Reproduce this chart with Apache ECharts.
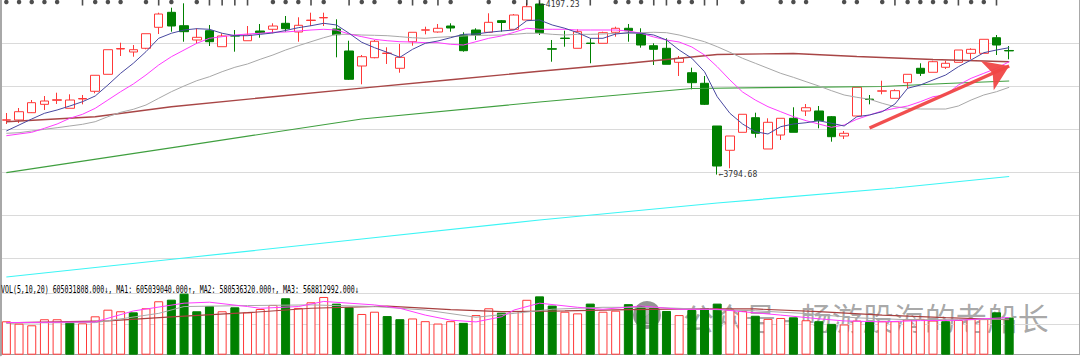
<!DOCTYPE html>
<html><head><meta charset="utf-8">
<script src="https://cdn.jsdelivr.net/npm/echarts@6/dist/echarts.min.js"></script>
<style>html,body{margin:0;padding:0;background:#fff;overflow:hidden}#c{width:1080px;height:358px}</style>
</head><body><div id="c"></div>
<script>
// ---------- data ----------
const dayCount = 80;
const categories = Array.from({length: 85}, (_, i) => i < dayCount ? 'D' + (i + 1) : '');
const candleOpen = [3921.2,3921.6,3938.6,3958.1,3967.4,3948.9,3970.5,3988.4,4027.9,4086.7,
4079.8,4088.4,4137.2,4172.1,4140.9,4107.7,4129.3,4092.1,4118.1,4106.0,
4128.6,4132.6,4146.5,4126.3,4153.0,4159.1,4133.3,4082.1,4047.2,4066.5,
4076.3,4041.9,4103.7,4130.5,4126.3,4140.2,4119.3,4130.9,4125.6,4152.6,
4132.6,4154.2,4191.4,4087.4,4112.1,4088.4,4100.5,4100.0,4125.6,4134.9,
4121.6,4094.4,4088.4,4055.8,4031.6,4007.0,3907.7,3851.2,3893.0,3927.0,
3854.2,3886.7,3925.6,3942.6,3942.6,3929.3,3884.4,3930.9,3970.2,3988.6,
3972.1,4008.4,4041.9,4032.6,4044.2,4055.8,4076.7,4076.7,4113.0,4083.3];
const candleClose = [3922.0,3940.9,3961.9,3965.8,3968.8,3968.1,3971.6,4025.6,4085.1,4087.9,
4085.1,4122.3,4168.1,4140.2,4127.0,4113.9,4103.7,4117.0,4116.7,4119.3,
4124.7,4140.2,4134.0,4141.9,4153.9,4160.0,4120.0,4016.3,4068.8,4104.7,
4077.2,4067.4,4125.6,4131.4,4134.9,4135.6,4082.8,4119.3,4148.8,4148.4,
4165.8,4185.1,4124.7,4086.3,4111.2,4127.0,4099.5,4124.7,4134.9,4129.3,
4096.0,4086.0,4051.2,4065.1,4008.4,3958.1,3814.6,3884.4,3934.9,3890.7,
3916.3,3925.6,3893.0,3950.2,3920.0,3882.8,3890.7,3997.7,3969.3,3989.5,
3989.8,4027.9,4030.2,4057.2,4053.5,4084.4,4086.0,4109.3,4096.0,4082.3];
const candleLow = [3912.3,3914.7,3937.9,3944.9,3958.9,3948.9,3958.1,3983.7,4027.9,4070.5,
4068.8,4086.0,4121.6,4127.0,4103.7,4098.4,4093.7,4092.1,4080.5,4106.0,
4113.0,4123.3,4127.0,4103.7,4140.2,4140.2,4067.4,4014.7,4004.7,4065.1,
4051.9,4031.6,4094.4,4120.9,4124.7,4127.0,4080.5,4107.7,4125.6,4127.0,
4132.6,4154.2,4119.3,4057.2,4092.1,4088.4,4053.5,4100.0,4115.4,4103.7,
4089.8,4049.5,4051.2,4024.0,3993.0,3956.5,3794.68,3809.3,3893.0,3880.5,
3854.2,3875.1,3893.0,3930.9,3902.3,3871.2,3877.4,3930.9,3958.1,3981.4,
3972.1,3995.4,4024.0,4032.6,4040.2,4055.8,4062.8,4076.7,4072.8,4062.8];
const candleHigh = [3937.9,3949.5,3968.1,3977.4,3985.1,3981.4,3979.8,4025.6,4085.1,4101.4,
4096.0,4122.3,4171.2,4182.8,4193.0,4134.9,4142.6,4123.3,4130.9,4140.2,
4144.9,4146.5,4163.5,4160.5,4171.2,4171.2,4155.8,4106.0,4072.8,4107.7,
4090.7,4098.4,4125.6,4138.6,4144.9,4146.5,4125.6,4134.9,4169.8,4154.2,
4168.1,4194.0,4197.23,4107.7,4129.3,4132.6,4111.6,4127.0,4138.6,4144.9,
4134.9,4100.0,4111.6,4070.5,4043.3,4024.0,3907.7,3884.4,3934.9,3938.6,
3925.6,3925.6,3951.2,3958.8,3954.2,3930.9,3896.0,3997.7,3979.8,4013.0,
3993.0,4027.9,4053.5,4059.5,4059.5,4084.4,4088.4,4109.3,4119.3,4093.7];
const ma5 = [3896.1,3910.0,3924.0,3937.2,3944.9,3954.2,3964.2,3977.4,4003.0,4030.2,
4053.5,4080.5,4111.6,4123.3,4130.9,4134.0,4132.6,4123.3,4117.7,4117.7,
4120.9,4124.0,4129.8,4136.3,4140.9,4146.5,4142.6,4123.3,4102.3,4089.8,
4079.1,4067.4,4086.0,4100.0,4105.4,4113.0,4120.9,4121.6,4125.6,4128.6,
4130.9,4152.6,4154.2,4142.6,4134.9,4124.7,4111.6,4111.6,4121.6,4124.7,
4123.3,4119.3,4107.7,4084.4,4065.1,4034.0,3975.8,3937.2,3912.3,3894.4,
3889.1,3906.1,3912.3,3915.3,3920.0,3914.0,3907.7,3929.3,3933.3,3940.9,
3958.8,3995.4,4003.0,4014.7,4026.3,4045.6,4061.2,4078.1,4084.4,4089.8];
const ma10 = [3885.1,3889.1,3893.0,3902.3,3912.3,3925.6,3934.9,3948.8,3968.1,3987.4,
4005.3,4026.3,4049.5,4068.8,4084.4,4100.0,4111.6,4115.4,4119.3,4121.6,
4123.3,4125.6,4126.3,4128.6,4130.9,4132.6,4130.9,4121.6,4115.4,4109.3,
4106.0,4103.7,4103.0,4101.4,4101.4,4097.7,4096.0,4103.7,4111.6,4117.0,
4125.6,4134.9,4132.6,4132.6,4132.6,4130.9,4130.9,4130.9,4130.9,4128.6,
4123.3,4114.7,4107.7,4103.0,4091.4,4072.8,4045.6,4014.7,3986.7,3968.1,
3952.6,3940.9,3929.3,3920.0,3912.3,3904.7,3910.0,3923.3,3933.3,3942.6,
3948.8,3954.2,3964.2,3975.8,3979.8,4003.0,4018.6,4030.2,4041.9,4057.2];
const ma20 = [3890.7,3892.1,3896.0,3900.0,3903.7,3907.7,3911.6,3917.7,3929.3,3939.5,
3946.5,3956.5,3972.1,3987.4,4000.7,4013.0,4022.3,4034.0,4044.2,4051.9,
4062.8,4072.8,4084.4,4094.4,4103.7,4113.0,4120.9,4120.9,4119.3,4118.6,
4117.7,4115.4,4113.0,4111.6,4114.0,4115.4,4117.0,4118.6,4118.6,4119.3,
4120.9,4123.3,4123.3,4120.9,4119.3,4120.9,4120.9,4121.6,4123.3,4123.3,
4124.7,4125.6,4124.7,4119.3,4111.6,4103.7,4092.1,4079.1,4065.1,4053.5,
4041.9,4030.2,4020.9,4010.7,4000.7,3989.8,3979.8,3974.4,3969.8,3960.5,
3952.6,3948.8,3947.2,3947.2,3947.2,3954.2,3968.1,3979.8,3987.4,3997.7];
// long averages, read at a few days (day number, value)
const ma60Points = [[1,3917.7],[8,3929.3],[14,3952.6],[22,3975.8],[29,3995.8],[36,4015.1],[43,4034.9],[50,4053.5],[57,4074.0],[63,4076.3],[68,4069.3],[74,4062.3],[80,4057.2]];
const ma120Points = [[1,3799.1],[15,3861.6],[29,3924.0],[43,3963.5],[55,3994.9],[63,3997.7],[70,3999.5],[75,4006.5],[80,4012.3]];
const ma250Points = [[1,3556.5],[15,3600.7],[29,3644.9],[43,3689.1],[57,3728.6],[71,3763.5],[80,3790.2]];
// volume in millions of shares
const volumeM = [544,505,479,577,577,544,511,625,733,707,
690,756,870,896,994,707,793,707,772,690,
744,810,919,761,853,940,831,772,663,700,
629,578,590,546,507,546,518,645,756,684,
712,894,950,800,700,673,832,700,717,823,
795,767,712,645,728,760,832,739,712,634,
583,598,609,561,545,502,492,556,534,545,
545,572,583,556,545,565,580,580,690,605];
const volumeUp = [1,1,1,1,1,0,1,1,1,1, 0,1,1,0,0,0,0,1,0,1, 1,1,0,1,1,1,0,0,1,1, 0,0,1,1,1,1,0,1,1,0,
1,1,0,0,1,1,0,1,1,0, 0,0,0,1,0,0,0,1,1,0, 1,1,0,1,0,0,1,1,0,1, 1,1,1,1,0,1,1,1,0,0];
const volMa5Points = [[1,523],[8,534],[11,712],[15,839],[17,855],[20,784],[21,756],[24,784],[26,867],[28,839],[30,811],[32,756],[34,645],[36,562],[38,534],[40,617],[41,728],[43,839],[46,772],[48,740],[51,793],[54,740],[57,740],[59,700],[62,645],[65,585],[67,550],[70,535],[73,555],[76,560],[78,585],[80,605]];
const volMa10Points = [[1,518],[8,523],[13,673],[15,784],[20,800],[25,811],[30,784],[34,728],[38,610],[41,673],[44,740],[48,772],[52,770],[56,740],[60,715],[64,670],[68,600],[72,570],[76,570],[80,580]];
const volMa20Points = [[1,518],[9,551],[14,617],[20,684],[25,756],[31,790],[36,735],[40,700],[45,715],[50,735],[55,745],[60,745],[65,700],[70,645],[75,605],[80,569]];
const topMarks = ('*****.|***' + '.*|*.*||||' + '.***|*.|**' + '.*|*|*..*.' + '*||...|.**' + '*||**||.*.' + '.***..**.*' + '|****|**|.').split('');
const volLegend = ['605031808.000', '605039040.000', '580536320.000', '568812992.000'];
const arrowFrom = [68, 3903.0];   // [day index, price]
const arrowTo = [79, 4047.2];
const watermark = '公众号 - 畅游股海的老船长';

// ---------- build ----------
function fromPoints(pts) {
  const a = new Array(dayCount).fill(null);
  pts.forEach(([d, v]) => { a[d - 1] = v; });
  return a;
}
const candleData = candleOpen.map((o, i) => [o, candleClose[i], candleLow[i], candleHigh[i]]);
const RED = '#ff3838', GREEN = '#008000';
const volData = volumeM.map((v, i) => ({
  value: v,
  itemStyle: volumeUp[i] ? {color: '#ffffff', borderColor: RED, borderWidth: 1}
                         : {color: GREEN, borderColor: GREEN, borderWidth: 1}
}));
const starData = [], barMarkData = [];
topMarks.forEach((m, i) => {
  if (m === '*') starData.push([i, 4196]);
  if (m === '|') barMarkData.push([i, 4196]);
});
function line(name, data, color, width, xi, yi, extra) {
  return Object.assign({
    name, type: 'line', data, xAxisIndex: xi, yAxisIndex: yi, symbol: 'none',
    connectNulls: true, silent: true, lineStyle: {color, width}, z: 3
  }, extra || {});
}
const mono = '"DejaVu Sans Mono", monospace';
const rs = (c) => ({color: c, fontFamily: mono, fontSize: 10});

const chart = echarts.init(document.getElementById('c'), null, {renderer: 'svg'});
chart.setOption({
  animation: false,
  backgroundColor: '#ffffff',
  grid: [
    {left: 0, right: 1, top: 0.3, height: 301},
    {left: 0, right: 1, top: 285.3, height: 69.4}
  ],
  xAxis: [
    {type: 'category', data: categories, gridIndex: 0, boundaryGap: true,
     axisLine: {show: false}, axisTick: {show: false}, axisLabel: {show: false}, splitLine: {show: false}},
    {type: 'category', data: categories, gridIndex: 1, boundaryGap: true, position: 'top',
     axisLine: {show: true, lineStyle: {color: '#a0a0a0', width: 1}}, axisTick: {show: false},
     axisLabel: {show: false}, splitLine: {show: false}}
  ],
  yAxis: [
    {type: 'value', gridIndex: 0, min: 3500, max: 4200, interval: 100, position: 'right',
     axisLine: {show: true, lineStyle: {color: '#a8a8a8'}}, axisTick: {show: false}, axisLabel: {show: false},
     splitLine: {show: true, lineStyle: {width: 1, color: ['rgba(0,0,0,0)', '#dadada', '#dadada', '#dadada', '#dadada', '#dadada', '#dadada', 'rgba(0,0,0,0)']}}},
    {type: 'value', gridIndex: 1, min: 0, max: 1130, interval: 500, position: 'right',
     axisLine: {show: true, lineStyle: {color: '#a8a8a8'}}, axisTick: {show: false}, axisLabel: {show: false},
     splitLine: {show: true, lineStyle: {width: 1, color: ['rgba(0,0,0,0)', '#dadada', '#dadada', 'rgba(0,0,0,0)']}}},
    {type: 'value', gridIndex: 0, min: 3500, max: 4200, position: 'left',
     axisLine: {show: true, lineStyle: {color: '#a8a8a8', width: 3}}, axisTick: {show: false},
     axisLabel: {show: false}, splitLine: {show: false}},
    {type: 'value', gridIndex: 1, min: 0, max: 1130, position: 'left',
     axisLine: {show: true, lineStyle: {color: '#a8a8a8', width: 3}}, axisTick: {show: false},
     axisLabel: {show: false}, splitLine: {show: false}}
  ],
  series: [
    {name: 'K', type: 'candlestick', data: candleData, xAxisIndex: 0, yAxisIndex: 0, barWidth: 9, silent: true,
     itemStyle: {color: '#ffffff', color0: GREEN, borderColor: RED, borderColor0: GREEN, borderWidth: 1},
     markPoint: {
       symbol: 'circle', symbolSize: 1, silent: true, itemStyle: {color: 'rgba(0,0,0,0)'},
       label: {show: true, position: 'right', distance: 1, fontFamily: mono, fontSize: 8, color: '#333333',
               formatter: (p) => '\u2190' + Number(p.value).toFixed(2)},
       data: [{type: 'max', valueDim: 'highest', name: 'high', label: {offset: [0, 3]}},
              {type: 'min', valueDim: 'lowest', name: 'low'}]
     }},
    line('MA250', fromPoints(ma250Points), '#3cf5f5', 1.2, 0, 0),
    line('MA120', fromPoints(ma120Points), '#3f9f3f', 1.2, 0, 0),
    line('MA60', fromPoints(ma60Points), '#a84646', 1.4, 0, 0),
    line('MA20', ma20, '#a8a8a8', 1, 0, 0),
    line('MA10', ma10, '#ff3cff', 1, 0, 0),
    line('MA5', ma5, '#4848a0', 1, 0, 0, {
      markLine: {
        silent: true, symbol: ['none', 'arrow'], symbolSize: 24,
        lineStyle: {color: '#f04646', width: 3.5, type: 'solid', opacity: 0.95},
        label: {show: false}, emphasis: {disabled: true},
        data: [[{coord: arrowFrom}, {coord: arrowTo}]]
      }
    }),
    {name: 'mark*', type: 'scatter', data: starData, xAxisIndex: 0, yAxisIndex: 0, symbol: 'circle',
     symbolSize: 4.5, itemStyle: {color: '#222222'}, silent: true, z: 4},
    {name: 'mark|', type: 'scatter', data: barMarkData, xAxisIndex: 0, yAxisIndex: 0, symbol: 'rect',
     symbolSize: [1.6, 7], itemStyle: {color: '#222222'}, silent: true, z: 4},
    {name: 'VOL', type: 'bar', data: volData, xAxisIndex: 1, yAxisIndex: 1, barWidth: 9, silent: true},
    line('VMA20', fromPoints(volMa20Points), '#a84040', 1.2, 1, 1),
    line('VMA10', fromPoints(volMa10Points), '#a8a8a8', 1, 1, 1),
    line('VMA5', fromPoints(volMa5Points), '#ff3cff', 1, 1, 1)
  ],
  graphic: [
    {type: 'text', x: 1, y: 289.5, z: 100, scaleX: 0.66, silent: true,
     style: {
       text: '{k|VOL(5,10,20)} {v|' + volLegend[0] + '}{dn|\u2193}{v|,} {m1|MA1: ' + volLegend[1] + '}{up|\u2191}{m1|,} {m2|MA2: ' + volLegend[2] + '}{up|\u2191}{m2|,} {m3|MA3: ' + volLegend[3] + '}{dn|\u2193}',
       fontFamily: mono, fontSize: 10, verticalAlign: 'middle', textAlign: 'left',
       rich: {k: rs('#000000'), v: rs('#000080'), m1: rs('#ff00ff'), m2: rs('#9a9a9a'), m3: rs('#a03030'), up: rs('#ff0000'), dn: rs('#008000')}
     }},
    {type: 'group', z: 100, silent: true, children: [
      {type: 'circle', shape: {cx: 647, cy: 315, r: 14}, style: {fill: 'rgba(60,60,60,0.55)'}},
      {type: 'ellipse', shape: {cx: 643, cy: 311, rx: 7, ry: 5.5}, style: {fill: 'rgba(255,255,255,0.35)'}},
      {type: 'ellipse', shape: {cx: 651, cy: 319, rx: 6, ry: 4.5}, style: {fill: 'rgba(255,255,255,0.25)'}},
      {type: 'text', x: 683, y: 316, style: {text: watermark, fontFamily: '"Noto Sans CJK SC", sans-serif', fontSize: 31,
        fill: 'rgba(60,60,60,0.45)', verticalAlign: 'middle', textAlign: 'left'}}
    ]}
  ]
});
</script>
</body></html>
